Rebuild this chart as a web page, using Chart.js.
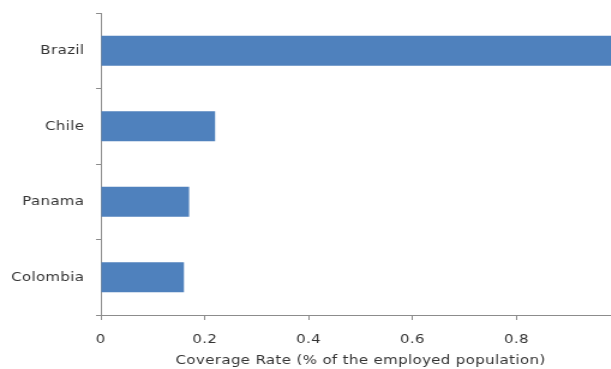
<!DOCTYPE html>
<html>
<head>
<meta charset="utf-8">
<script src="https://cdn.jsdelivr.net/npm/chart.js@4.4.1/dist/chart.umd.min.js"></script>
<style>
  html, body { margin: 0; padding: 0; background: #fff; overflow: hidden; }
  #wrap { position: relative; width: 611px; height: 369px; overflow: hidden; }
  /* the drawing is widened horizontally, giving the broad lettering */
  #chart { display: block; transform: scaleX(1.2); transform-origin: 0 0; }
</style>
</head>
<body>
<div id="wrap"><canvas id="chart" width="533" height="369"></canvas></div>
<script>
// Coverage rate by country (share of the employed population)
const countries = ['Brazil', 'Chile', 'Panama', 'Colombia'];
const coverage = [1.0, 0.22, 0.17, 0.16];
const xTickValues = [0, 0.2, 0.4, 0.6, 0.8, 1];
const xTickLabels = ['0', '0.2', '0.4', '0.6', '0.8', '1'];
const xAxisTitle = 'Coverage Rate (% of the employed population)';

const FONT = '"DejaVu Sans", Verdana, sans-serif';
const FONT_SIZE = 12.5;
const LETTER_SPACING = '0.3px';
const TEXT_COLOR = '#333333';
const AXIS_GREY = '#8c8c8c';

// Slight tracking for every label drawn on the canvas
const spacedText = {
  id: 'spacedText',
  beforeUpdate(chart) { chart.ctx.letterSpacing = LETTER_SPACING; },
  beforeLayout(chart) { chart.ctx.letterSpacing = LETTER_SPACING; },
  beforeDraw(chart) { chart.ctx.letterSpacing = LETTER_SPACING; }
};

new Chart(document.getElementById('chart'), {
  type: 'bar',
  plugins: [spacedText],
  data: {
    labels: countries,
    datasets: [{
      data: coverage,
      backgroundColor: '#4F81BD',
      borderWidth: 0,
      barPercentage: 0.4,
      categoryPercentage: 1.0
    }]
  },
  options: {
    indexAxis: 'y',
    responsive: false,
    animation: false,
    devicePixelRatio: 1,
    layout: { padding: 0 },
    plugins: {
      legend: { display: false },
      tooltip: { enabled: false },
      title: { display: false }
    },
    scales: {
      x: {
        type: 'linear',
        min: 0,
        max: 1,
        afterBuildTicks: (scale) => { scale.ticks = xTickValues.map(v => ({ value: v })); },
        afterFit: (scale) => { scale.height = 54; },
        ticks: {
          autoSkip: false,
          maxRotation: 0,
          padding: 12,
          color: TEXT_COLOR,
          font: { family: FONT, size: FONT_SIZE },
          callback: (value) => {
            const i = xTickValues.indexOf(value);
            return i >= 0 ? xTickLabels[i] : '';
          }
        },
        grid: {
          drawOnChartArea: false,
          drawTicks: true,
          tickLength: 5,
          color: AXIS_GREY
        },
        border: { display: true, color: AXIS_GREY, width: 1 },
        title: {
          display: true,
          text: xAxisTitle,
          color: TEXT_COLOR,
          font: { family: FONT, size: FONT_SIZE },
          padding: { top: 0, bottom: 0.5 }
        }
      },
      y: {
        afterFit: (scale) => {
          scale.width = 84;
          scale.paddingTop = 13;
          scale.paddingBottom = 0;
        },
        ticks: {
          padding: 9.7,
          color: TEXT_COLOR,
          font: { family: FONT, size: FONT_SIZE }
        },
        grid: {
          offset: true,
          drawOnChartArea: false,
          drawTicks: true,
          tickLength: 4,
          color: AXIS_GREY
        },
        border: { display: true, color: AXIS_GREY, width: 1 }
      }
    }
  }
});
</script>
</body>
</html>
